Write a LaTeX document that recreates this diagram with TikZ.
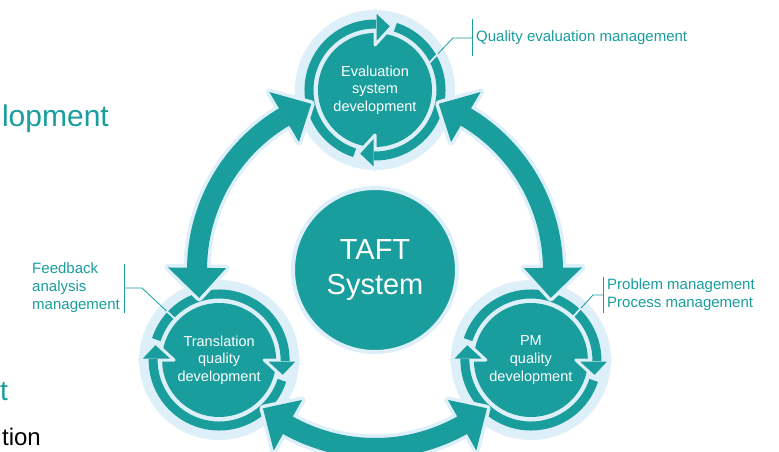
\documentclass[tikz,border=0pt]{standalone}
\usepackage{fontspec}
\setmainfont{Liberation Sans}
\usetikzlibrary{calc}

\definecolor{taftteal}{RGB}{25,157,157}
\definecolor{taftlight}{RGB}{221,239,249}

\tikzset{
  unitdisc/.style={circle, fill=taftteal, text=white, minimum size=114pt, inner sep=0pt,
    align=center, font=\fontsize{14.5}{17.7}\selectfont},
  coredisc/.style={circle, fill=taftteal, draw=taftlight, line width=4pt, text=white,
    minimum size=164pt, inner sep=0pt, align=center, font=\fontsize{29}{35}\selectfont},
  lbl/.style={text=taftteal, inner xsep=4pt, inner ysep=0pt, font=\fontsize{15}{18}\selectfont},
  leader/.style={draw=taftteal, line width=0.8pt},
  cut/.style={draw=taftlight, line width=1.8pt},
}

% ring of two turning arrows round a unit: centre, turn of the heads
\newcommand{\ringarrows}[2]{%
  \foreach \bk in {#2,#2+180}{
    \filldraw[fill=taftteal, draw=taftlight, line width=3pt, line join=round]
      ($(#1)+(\bk-15:66)$) -- ($(#1)+(\bk:80)$) -- ($(#1)+(\bk:45)$) -- cycle;}
  \foreach \bk in {#2,#2+180}{
    \draw[taftteal, line width=9pt] ($(#1)+(\bk+162:66)$)
      arc[start angle=\bk+162, end angle=\bk-1, radius=66];}
}

% big double arrow on the outer circle: tip angles, low and high
\newcommand{\bigarrow}[2]{%
  \draw[taftlight, line width=27pt] ($(O)+(#1+9:178)$)
    arc[start angle=#1+9, end angle=#2-9, radius=178];
  \foreach \tp/\bk in {#1/#1+9.7,#2/#2-9.7}{
    \filldraw[taftlight, line width=7pt, line join=round]
      ($(O)+(\tp:178)$) -- ($(O)+(\bk:207)$) -- ($(O)+(\bk:149)$) -- cycle;
    \fill[taftteal] ($(O)+(\tp:178)$) -- ($(O)+(\bk:207)$) -- ($(O)+(\bk:149)$) -- cycle;}
  \draw[taftteal, line width=20pt] ($(O)+(#1+9:178)$)
    arc[start angle=#1+9, end angle=#2-9, radius=178];
}

\begin{document}
\begin{tikzpicture}[x=1pt, y=1pt]
  \useasboundingbox (0,0) rectangle (779,-452);

  % slide text cut off at the left edge
  \node[anchor=east, text=taftteal, inner sep=0pt, font=\fontsize{30}{32}\selectfont] (cutA) at (109,-119) {lopment};
  \node[anchor=west, text=taftteal, inner sep=0pt, font=\fontsize{28}{30}\selectfont] (cutB) at (0,-392) {t};
  \node[anchor=east, inner sep=0pt, font=\fontsize{24}{26}\selectfont] (cutC) at (41,-437) {tion};

  \coordinate (O) at (375,-270);
  \coordinate (T) at ($(O)+(90:180)$);
  \coordinate (L) at ($(O)+(210:180)$);
  \coordinate (R) at ($(O)+(330:180)$);

  \node[coredisc] (taft) at (O) {TAFT\\System}; %core

  \foreach \ctr in {T,L,R} \fill[taftlight] (\ctr) circle (80);
  \node[unitdisc] (evalC) at (T) {Evaluation\\system\\development}; %top
  \node[unitdisc] (transC) at (L) {Translation\\quality\\development}; %left
  \node[unitdisc] (pmC) at (R) {PM\\quality\\development}; %right

  \ringarrows{T}{90}
  \ringarrows{L}{0}
  \ringarrows{R}{0}

  % labels with their leaders
  \node[lbl, anchor=west] (qeLabel) at (472,-38) {Quality evaluation management};
  \coordinate (qeEnd) at ($(T)+(30:73)$);
  \coordinate (qeKnee) at (453,-38);
  \draw[cut] (qeEnd) -- ($(qeEnd)!-14pt!(qeKnee)$);
  \draw[leader] (qeEnd) -- (qeKnee) -- (qeLabel.west);
  \draw[leader] ($(qeLabel.west)+(0,18.5)$) -- ($(qeLabel.west)+(0,-18.5)$);

  \node[lbl, anchor=east, align=left] (faLabel) at (124,-288) {Feedback\\analysis\\management};
  \coordinate (faEnd) at ($(L)+(137:72)$);
  \coordinate (faKnee) at (142,-288);
  \draw[cut] (faEnd) -- ($(faEnd)!-14pt!(faKnee)$);
  \draw[leader] (faEnd) -- (faKnee) -- (faLabel.east);
  \draw[leader] ($(faLabel.east)+(0,24.5)$) -- ($(faLabel.east)+(0,-24.5)$);

  \node[lbl, anchor=west, align=left] (pmLabel) at (603,-295) {Problem management\\Process management};
  \coordinate (pmEnd) at ($(R)+(46:72)$);
  \coordinate (pmKnee) at (593,-295);
  \draw[cut] (pmEnd) -- ($(pmEnd)!-14pt!(pmKnee)$);
  \draw[leader] (pmEnd) -- (pmKnee) -- (pmLabel.west);
  \draw[leader] ($(pmLabel.west)+(0,18)$) -- ($(pmLabel.west)+(0,-18)$);

  % big arrows between the units
  \bigarrow{111}{189}
  \bigarrow{231}{309}
  \bigarrow{-9}{69}
\end{tikzpicture}
\end{document}
